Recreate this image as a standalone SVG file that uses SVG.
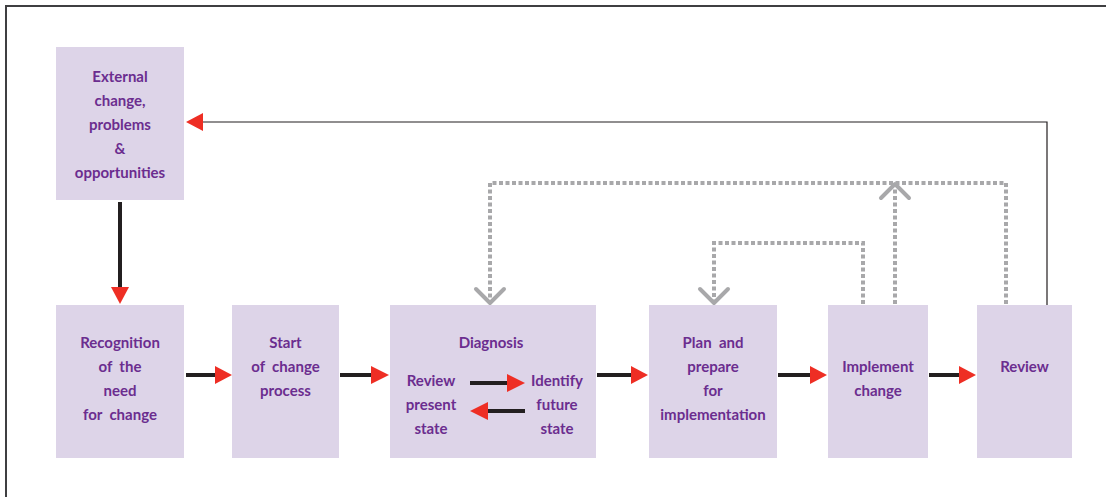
<svg xmlns="http://www.w3.org/2000/svg" width="1106" height="497" viewBox="0 0 1106 497">
<style>
.box{fill:#ddd4e8}
.t{font-family:Lato,"Open Sans","Liberation Sans",sans-serif;font-weight:bold;font-size:15px;fill:#6b2d8f;text-anchor:middle;white-space:pre}
.blk{stroke:#231f20;stroke-width:4;fill:none}
.red{fill:#ee2e24}
.dot{stroke:#a8a8aa;stroke-width:4;fill:none;stroke-dasharray:4 2.5}
.chev{stroke:#a8a8aa;stroke-width:4;fill:none;stroke-linecap:round;stroke-linejoin:round}
</style>
<rect width="1106" height="497" fill="#fff"/>
<path d="M6,497 V6 H1106" stroke="#3f3f41" stroke-width="2" fill="none"/>
<g id="n-external">
<rect class="box" x="56" y="47" width="128" height="153"/>
<text class="t" x="120" y="82">External</text>
<text class="t" x="120" y="106">change,</text>
<text class="t" x="120" y="130">problems</text>
<text class="t" x="120" y="154">&amp;</text>
<text class="t" x="120" y="178">opportunities</text>
</g>
<g id="n-recognition">
<rect class="box" x="56" y="305" width="128" height="153"/>
<text class="t" x="120" y="348">Recognition</text>
<text class="t" x="120" y="372" xml:space="preserve">of  the</text>
<text class="t" x="120" y="396">need</text>
<text class="t" x="120" y="420" xml:space="preserve">for  change</text>
</g>
<g id="n-start">
<rect class="box" x="232" y="305" width="107" height="153"/>
<text class="t" x="285.5" y="348">Start</text>
<text class="t" x="285.5" y="372" xml:space="preserve">of  change</text>
<text class="t" x="285.5" y="396">process</text>
</g>
<g id="n-diagnosis">
<rect class="box" x="390" y="305" width="206" height="153"/>
<text class="t" x="491" y="348">Diagnosis</text>
<text class="t" x="431" y="386">Review</text>
<text class="t" x="431" y="410">present</text>
<text class="t" x="431" y="434">state</text>
<text class="t" x="557" y="386">Identify</text>
<text class="t" x="557" y="410">future</text>
<text class="t" x="557" y="434">state</text>
<line class="blk" x1="470" y1="383" x2="509" y2="383"/>
<polygon class="red" points="507,374 525,383 507,392"/>
<line class="blk" x1="486" y1="411" x2="525" y2="411"/>
<polygon class="red" points="488,402 470,411 488,420"/>
</g>
<g id="n-plan">
<rect class="box" x="649" y="305" width="128" height="153"/>
<text class="t" x="713" y="348" xml:space="preserve">Plan  and</text>
<text class="t" x="713" y="372">prepare</text>
<text class="t" x="713" y="396">for</text>
<text class="t" x="713" y="420">implementation</text>
</g>
<g id="n-implement">
<rect class="box" x="828" y="305" width="100" height="153"/>
<text class="t" x="878" y="372">Implement</text>
<text class="t" x="878" y="396">change</text>
</g>
<g id="n-review">
<rect class="box" x="977" y="305" width="95" height="153"/>
<text class="t" x="1024.5" y="372">Review</text>
</g>
<g id="connectors">
<line class="blk" x1="120" y1="202" x2="120" y2="289"/>
<polygon class="red" points="111,287 129,287 120,304"/>
<line class="blk" x1="186" y1="375" x2="217" y2="375"/>
<polygon class="red" points="215,366 232,375 215,384"/>
<line class="blk" x1="340" y1="375" x2="373" y2="375"/>
<polygon class="red" points="371,366 389,375 371,384"/>
<line class="blk" x1="597" y1="375" x2="633" y2="375"/>
<polygon class="red" points="631,366 648,375 631,384"/>
<line class="blk" x1="778" y1="375" x2="812" y2="375"/>
<polygon class="red" points="810,366 827,375 810,384"/>
<line class="blk" x1="929" y1="375" x2="961" y2="375"/>
<polygon class="red" points="959,366 976,375 959,384"/>
<path d="M1047,305 V122 H201" stroke="#231f20" stroke-width="1.2" fill="none"/>
<polygon class="red" points="203,113 186,122 203,131"/>
<path class="dot" d="M1006,304 V183 H490 V300"/>
<path class="chev" d="M476,289 L490,303 L504,289"/>
<path class="dot" d="M863,304 V243 H714 V300"/>
<path class="chev" d="M700,289 L714,303 L728,289"/>
<path class="dot" d="M895,304 V188"/>
<path class="chev" d="M881,198 L895,184 L909,198"/>
</g>
</svg>
